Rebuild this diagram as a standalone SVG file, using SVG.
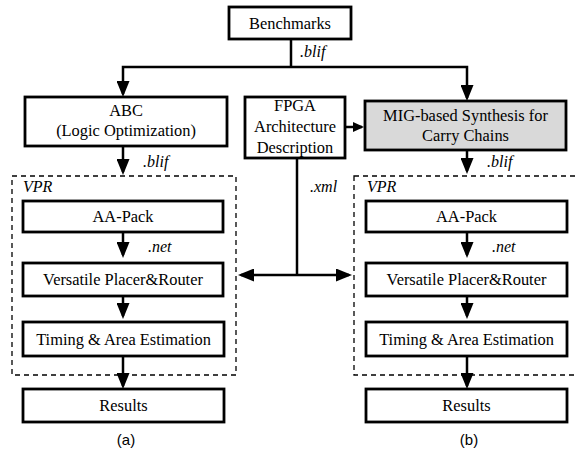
<svg xmlns="http://www.w3.org/2000/svg" width="578" height="454" viewBox="0 0 578 454">
<style>
.box{fill:#fff;stroke:#000;stroke-width:2.8}
.gray{fill:#d9d9d9}
.t{font-family:'Liberation Serif','Times New Roman',Times,serif;font-size:16.4px;fill:#000;text-anchor:middle}
.lbl{font-family:'Liberation Serif','Times New Roman',Times,serif;font-size:16px;font-style:italic;fill:#000}
.cap{font-family:'Liberation Sans',Arial,sans-serif;font-size:15px;fill:#000;text-anchor:middle}
.dash{fill:none;stroke:#000;stroke-width:1.3;stroke-dasharray:5 4}
.c{fill:none;stroke:#000;stroke-width:2.5}
.a{marker-end:url(#ah)}
.s{marker-end:url(#as)}
</style>
<defs>
<marker id="ah" viewBox="0 0 16 13" refX="13" refY="6.5" markerWidth="16" markerHeight="13" markerUnits="userSpaceOnUse" orient="auto">
<path d="M0,0 L16,6.5 L0,13 z" fill="#000"/>
</marker>
<marker id="as" viewBox="0 0 11 10" refX="9" refY="5" markerWidth="11" markerHeight="10" markerUnits="userSpaceOnUse" orient="auto">
<path d="M0,0 L11,5 L0,10 z" fill="#000"/>
</marker>
</defs>

<g id="vpr-a"><rect class="dash" x="12" y="176" width="224" height="199"/><text class="lbl" x="23" y="192">VPR</text></g>
<g id="vpr-b"><rect class="dash" x="354" y="176" width="240" height="199"/><text class="lbl" x="367" y="192">VPR</text></g>

<g id="connectors">
<path class="c" d="M291,39 V67"/>
<path class="c a" d="M291,67 H123 V94"/>
<path class="c a" d="M291,67 H467 V98"/>
<path class="c a" d="M123,146 V172"/>
<path class="c a" d="M123,232 V255"/>
<path class="c a" d="M123,296 V316"/>
<path class="c a" d="M123,356 V386"/>
<path class="c a" d="M467,150 V171"/>
<path class="c a" d="M467,232 V255"/>
<path class="c a" d="M467,296 V316"/>
<path class="c a" d="M467,356 V386"/>
<path class="c s" d="M345,127 H362"/>
<path class="c" d="M297,158 V275"/>
<path class="c a" d="M297,275 H241"/>
<path class="c a" d="M297,275 H349"/>
<text class="lbl" x="300" y="57">.blif</text>
<text class="lbl" x="143" y="167">.blif</text>
<text class="lbl" x="487" y="167">.blif</text>
<text class="lbl" x="148" y="252">.net</text>
<text class="lbl" x="492" y="252">.net</text>
<text class="lbl" x="310" y="192">.xml</text>
</g>

<g id="benchmarks"><rect class="box" x="229" y="7" width="122" height="32"/><text class="t" x="290" y="28.5">Benchmarks</text></g>
<g id="abc"><rect class="box" x="25" y="97" width="202" height="49"/><text class="t" x="126" y="116">ABC</text><text class="t" x="126" y="136">(Logic Optimization)</text></g>
<g id="fpga"><rect class="box" x="245" y="97" width="100" height="61"/><text class="t" x="295" y="111">FPGA</text><text class="t" x="295" y="132">Architecture</text><text class="t" x="295" y="153">Description</text></g>
<g id="mig"><rect class="box gray" x="365" y="101" width="201" height="49"/><text class="t" x="465.5" y="121">MIG-based Synthesis for</text><text class="t" x="465.5" y="141">Carry Chains</text></g>

<g id="aapack-a"><rect class="box" x="23" y="201" width="200" height="31"/><text class="t" x="123" y="222">AA-Pack</text></g>
<g id="vpr-router-a"><rect class="box" x="23" y="263" width="200" height="33"/><text class="t" x="123" y="285">Versatile Placer&amp;Router</text></g>
<g id="timing-a"><rect class="box" x="23" y="322" width="201" height="34"/><text class="t" x="123.5" y="344.5">Timing &amp; Area Estimation</text></g>
<g id="results-a"><rect class="box" x="23" y="389" width="201" height="33"/><text class="t" x="123.5" y="411">Results</text></g>

<g id="aapack-b"><rect class="box" x="366" y="201" width="201" height="31"/><text class="t" x="466.5" y="222">AA-Pack</text></g>
<g id="vpr-router-b"><rect class="box" x="366" y="263" width="201" height="33"/><text class="t" x="466.5" y="285">Versatile Placer&amp;Router</text></g>
<g id="timing-b"><rect class="box" x="366" y="322" width="201" height="34"/><text class="t" x="466.5" y="344.5">Timing &amp; Area Estimation</text></g>
<g id="results-b"><rect class="box" x="366" y="389" width="201" height="33"/><text class="t" x="466.5" y="411">Results</text></g>

<text class="cap" x="126" y="445">(a)</text>
<text class="cap" x="469" y="445">(b)</text>
</svg>
